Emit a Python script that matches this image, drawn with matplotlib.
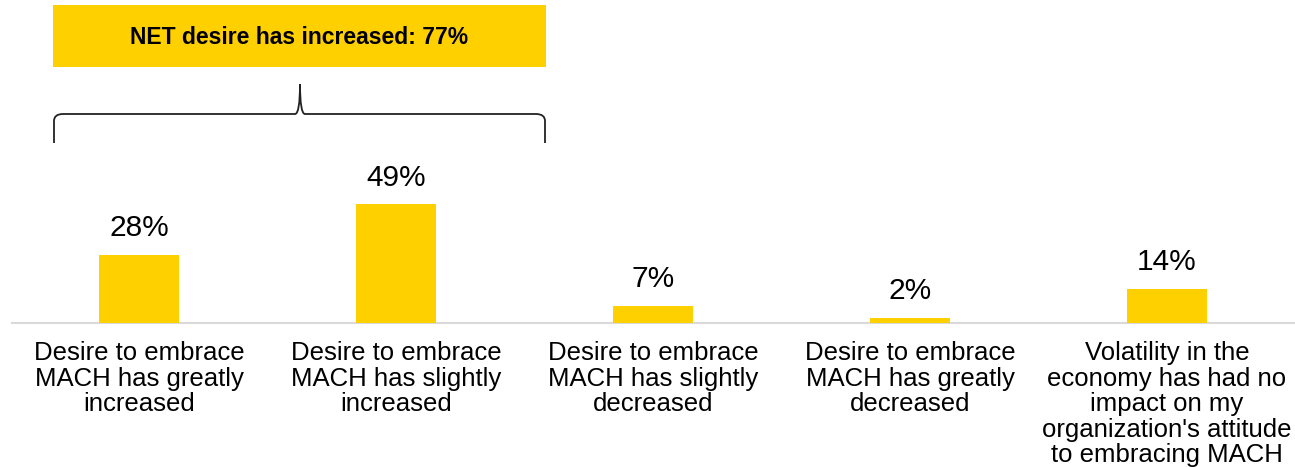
import matplotlib.pyplot as plt
from matplotlib.path import Path
from matplotlib.patches import PathPatch, Rectangle

plt.rcParams['font.family'] = ['Liberation Sans', 'DejaVu Sans']

categories = [
    "Desire to embrace\nMACH has greatly\nincreased",
    "Desire to embrace\nMACH has slightly\nincreased",
    "Desire to embrace\nMACH has slightly\ndecreased",
    "Desire to embrace\nMACH has greatly\ndecreased",
    "Volatility in the\neconomy has had no\nimpact on my\norganization's attitude\nto embracing MACH",
]
values = [28, 49, 7, 2, 14]
net_label = "NET desire has increased: 77%"

YELLOW = "#FFD000"
W, H = 1295, 467


def main():
    fig = plt.figure(figsize=(W / 100, H / 100), dpi=100)
    ax = fig.add_axes([0, 0, 1, 1])

    # one category step = 257 px, 2.42 px per percent, baseline 323 px from top
    step, ppp, base = 257.0, 2.42, 323.0
    ax.set_xlim(-139 / step, (W - 139) / step)
    ax.set_ylim(-(H - base) / ppp, base / ppp)
    ax.axis("off")

    xs = range(len(values))
    ax.bar(xs, values, width=80 / step, color=YELLOW, zorder=2)
    ax.plot([(12 - 139) / step, (W - 139) / step], [0, 0],
            color="#d9d9d9", lw=1.5, zorder=1)

    for x, v in zip(xs, values):
        ax.text(x, v + 7.8, f"{v}%", ha="center", va="baseline",
                fontsize=21.5)

    for x, lab in zip(xs, categories):
        ax.text(x, -7.6, lab, ha="center", va="top", fontsize=18.5,
                linespacing=1.08)

    # summary box and brace drawn in figure pixel space (origin top-left)
    def px(x, y):
        return (x / W, 1 - y / H)

    box = Rectangle(px(53, 67), 493 / W, 62 / H, transform=fig.transFigure,
                    facecolor=YELLOW, edgecolor="none")
    fig.patches.append(box)
    fig.text(*px(299, 37), net_label, ha="center", va="center",
             fontsize=16.5, fontweight="bold")

    l, r, mid, top, y0, y1 = 54, 545, 300, 84, 114, 143
    pts = [
        (l, y1), (l, y0 + 7), (l, y0), (l + 9, y0),
        (mid - 5, y0), (mid, y0), (mid, top),
        (mid, y0), (mid + 5, y0),
        (r - 9, y0), (r, y0), (r, y0 + 7), (r, y1),
    ]
    codes = [Path.MOVETO, Path.LINETO, Path.CURVE3, Path.CURVE3,
             Path.LINETO, Path.CURVE3, Path.CURVE3,
             Path.CURVE3, Path.CURVE3,
             Path.LINETO, Path.CURVE3, Path.CURVE3, Path.LINETO]
    path = Path([px(*p) for p in pts], codes)
    fig.patches.append(PathPatch(path, transform=fig.transFigure,
                                 facecolor="none", edgecolor="#222222", lw=1.3))

    fig.savefig("out.png", dpi=100)


if __name__ == "__main__":
    main()
